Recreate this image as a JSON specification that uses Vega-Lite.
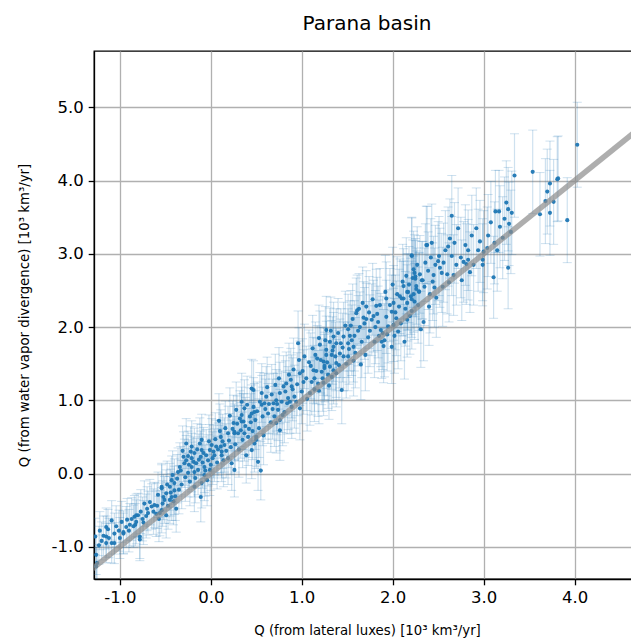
{
  "$schema": "https://vega.github.io/schema/vega-lite/v6.json",
  "autosize": {"type": "none"},
  "padding": {"left": 94, "top": 51, "right": 0, "bottom": 62},
  "width": 546,
  "height": 528,
  "background": "white",
  "title": {
    "text": "Parana basin",
    "font": "DejaVu Sans",
    "fontSize": 20,
    "fontWeight": "normal",
    "color": "#000000",
    "frame": "group",
    "anchor": "middle",
    "offset": 17
  },
  "config": {
    "font": "DejaVu Sans",
    "view": {"stroke": "#000000", "strokeWidth": 1.3},
    "axis": {
      "domainColor": "#000000",
      "domainWidth": 1.3,
      "tickColor": "#000000",
      "tickWidth": 1.3,
      "tickSize": 5.8,
      "labelFont": "DejaVu Sans",
      "labelFontSize": 16.5,
      "labelColor": "#000000",
      "labelPadding": 5,
      "gridColor": "#b0b0b0",
      "gridWidth": 1.3,
      "gridOpacity": 1,
      "titleFont": "DejaVu Sans",
      "titleFontSize": 13.3,
      "titleFontWeight": "normal",
      "titleColor": "#000000"
    }
  },
  "datasets": {
    "samples": [
      {"x": -1.26, "y": -1.27, "e": 0.26}, {"x": -1.25, "y": -1.22, "e": 0.25}, {"x": -1.27, "y": -0.86, "e": 0.25},
      {"x": -1.26, "y": -1.11, "e": 0.27}, {"x": -1.22, "y": -0.78, "e": 0.26}, {"x": -1.2, "y": -0.92, "e": 0.26},
      {"x": -1.15, "y": -0.95, "e": 0.27}, {"x": -1.15, "y": -0.86, "e": 0.28}, {"x": -1.15, "y": -0.73, "e": 0.26},
      {"x": -1.13, "y": -0.76, "e": 0.27}, {"x": -1.09, "y": -0.64, "e": 0.27}, {"x": -1.09, "y": -0.95, "e": 0.27},
      {"x": -1.06, "y": -0.82, "e": 0.28}, {"x": -1.06, "y": -0.95, "e": 0.28}, {"x": -1.0, "y": -0.88, "e": 0.28},
      {"x": -0.96, "y": -0.8, "e": 0.29}, {"x": -0.96, "y": -0.82, "e": 0.28}, {"x": -0.93, "y": -0.73, "e": 0.28},
      {"x": -0.89, "y": -0.7, "e": 0.29}, {"x": -0.85, "y": -0.72, "e": 0.29}, {"x": -0.84, "y": -0.59, "e": 0.29},
      {"x": -0.82, "y": -0.66, "e": 0.3}, {"x": -0.82, "y": -0.57, "e": 0.29}, {"x": -0.8, "y": -0.57, "e": 0.3},
      {"x": -0.78, "y": -0.86, "e": 0.3}, {"x": -0.78, "y": -0.9, "e": 0.29}, {"x": -0.75, "y": -0.62, "e": 0.3},
      {"x": -0.73, "y": -0.41, "e": 0.31}, {"x": -0.7, "y": -0.48, "e": 0.3}, {"x": -0.69, "y": -0.54, "e": 0.3},
      {"x": -0.65, "y": -0.45, "e": 0.31}, {"x": -0.62, "y": -0.43, "e": 0.31}, {"x": -0.6, "y": -0.55, "e": 0.31},
      {"x": -0.58, "y": -0.29, "e": 0.31}, {"x": -0.56, "y": -0.54, "e": 0.31}, {"x": -0.54, "y": -0.5, "e": 0.31},
      {"x": -0.54, "y": -0.2, "e": 0.32}, {"x": -0.54, "y": -0.18, "e": 0.32}, {"x": -0.52, "y": -0.32, "e": 0.31},
      {"x": -0.51, "y": -0.36, "e": 0.32}, {"x": -0.49, "y": -0.57, "e": 0.31}, {"x": -0.49, "y": -0.27, "e": 0.32},
      {"x": -0.45, "y": -0.36, "e": 0.32}, {"x": -0.45, "y": -0.18, "e": 0.32}, {"x": -0.43, "y": -0.09, "e": 0.33},
      {"x": -0.43, "y": -0.32, "e": 0.32}, {"x": -0.4, "y": -0.13, "e": 0.33}, {"x": -0.4, "y": -0.23, "e": 0.33},
      {"x": -0.38, "y": -0.48, "e": 0.32}, {"x": -0.36, "y": 0.02, "e": 0.33}, {"x": -0.34, "y": 0.09, "e": 0.33},
      {"x": -0.3, "y": 0.23, "e": 0.34}, {"x": -0.29, "y": 0.14, "e": 0.33}, {"x": -0.27, "y": 0.41, "e": 0.34},
      {"x": -0.25, "y": 0.24, "e": 0.34}, {"x": -0.25, "y": 0.01, "e": 0.33}, {"x": -0.21, "y": 0.21, "e": 0.34},
      {"x": -0.21, "y": 0.09, "e": 0.34}, {"x": -0.21, "y": 0.37, "e": 0.35}, {"x": -0.18, "y": 0.28, "e": 0.34},
      {"x": -0.18, "y": 0.02, "e": 0.34}, {"x": -0.18, "y": -0.18, "e": 0.34}, {"x": -0.16, "y": 0.14, "e": 0.34},
      {"x": -0.11, "y": 0.23, "e": 0.35}, {"x": -0.11, "y": -0.32, "e": 0.34}, {"x": -0.1, "y": 0.32, "e": 0.35},
      {"x": -0.1, "y": 0.46, "e": 0.35}, {"x": -0.1, "y": -0.13, "e": 0.34}, {"x": -0.07, "y": 0.09, "e": 0.35},
      {"x": -0.07, "y": -0.02, "e": 0.35}, {"x": -0.05, "y": 0.25, "e": 0.35}, {"x": -0.04, "y": -0.09, "e": 0.35},
      {"x": -0.01, "y": 0.32, "e": 0.35}, {"x": -0.01, "y": 0.05, "e": 0.35}, {"x": 0.01, "y": 0.39, "e": 0.36},
      {"x": 0.03, "y": 0.3, "e": 0.36}, {"x": 0.04, "y": 0.25, "e": 0.36}, {"x": 0.06, "y": 0.37, "e": 0.36},
      {"x": 0.09, "y": 0.72, "e": 0.37}, {"x": 0.11, "y": 0.37, "e": 0.36}, {"x": 0.11, "y": 0.5, "e": 0.37},
      {"x": 0.12, "y": 0.25, "e": 0.36}, {"x": 0.12, "y": 0.3, "e": 0.36}, {"x": 0.15, "y": 0.39, "e": 0.37},
      {"x": 0.19, "y": 0.21, "e": 0.36}, {"x": 0.19, "y": 0.55, "e": 0.37}, {"x": 0.23, "y": 0.14, "e": 0.37},
      {"x": 0.25, "y": 0.69, "e": 0.38}, {"x": 0.26, "y": 0.05, "e": 0.37}, {"x": 0.26, "y": 0.55, "e": 0.37},
      {"x": 0.26, "y": 0.57, "e": 0.38}, {"x": 0.28, "y": 0.87, "e": 0.38}, {"x": 0.3, "y": 0.55, "e": 0.38},
      {"x": 0.32, "y": 0.75, "e": 0.38}, {"x": 0.34, "y": 0.98, "e": 0.39}, {"x": 0.34, "y": 0.8, "e": 0.38},
      {"x": 0.34, "y": 0.71, "e": 0.38}, {"x": 0.36, "y": 0.71, "e": 0.38}, {"x": 0.37, "y": 0.55, "e": 0.38},
      {"x": 0.37, "y": 0.89, "e": 0.39}, {"x": 0.39, "y": 0.25, "e": 0.38}, {"x": 0.41, "y": 0.5, "e": 0.39},
      {"x": 0.43, "y": 0.78, "e": 0.39}, {"x": 0.45, "y": 1.16, "e": 0.4}, {"x": 0.45, "y": 0.82, "e": 0.39},
      {"x": 0.45, "y": 0.32, "e": 0.39}, {"x": 0.47, "y": 1.14, "e": 0.4}, {"x": 0.47, "y": 0.91, "e": 0.4},
      {"x": 0.48, "y": 0.84, "e": 0.39}, {"x": 0.48, "y": 0.41, "e": 0.39}, {"x": 0.5, "y": 0.5, "e": 0.4},
      {"x": 0.5, "y": 0.46, "e": 0.39}, {"x": 0.52, "y": 0.16, "e": 0.39}, {"x": 0.54, "y": 0.98, "e": 0.4},
      {"x": 0.55, "y": 0.04, "e": 0.4}, {"x": 0.56, "y": 1.1, "e": 0.4}, {"x": 0.56, "y": 0.94, "e": 0.4},
      {"x": 0.59, "y": 0.96, "e": 0.41}, {"x": 0.61, "y": 1.05, "e": 0.41}, {"x": 0.63, "y": 0.82, "e": 0.41},
      {"x": 0.69, "y": 0.96, "e": 0.41}, {"x": 0.7, "y": 0.78, "e": 0.41}, {"x": 0.72, "y": 1.0, "e": 0.42},
      {"x": 0.72, "y": 0.69, "e": 0.41}, {"x": 0.74, "y": 0.87, "e": 0.42}, {"x": 0.76, "y": 1.1, "e": 0.42},
      {"x": 0.76, "y": 0.73, "e": 0.42}, {"x": 0.76, "y": 0.59, "e": 0.41}, {"x": 0.8, "y": 1.19, "e": 0.42},
      {"x": 0.81, "y": 0.84, "e": 0.42}, {"x": 0.83, "y": 1.23, "e": 0.43}, {"x": 0.84, "y": 0.96, "e": 0.42},
      {"x": 0.85, "y": 1.03, "e": 0.43}, {"x": 0.88, "y": 1.28, "e": 0.43}, {"x": 0.89, "y": 1.19, "e": 0.43},
      {"x": 0.89, "y": 0.91, "e": 0.43}, {"x": 0.92, "y": 1.05, "e": 0.43}, {"x": 0.96, "y": 1.78, "e": 0.44},
      {"x": 0.98, "y": 1.37, "e": 0.44}, {"x": 0.98, "y": 0.89, "e": 0.43}, {"x": 1.02, "y": 1.25, "e": 0.44},
      {"x": 1.09, "y": 1.1, "e": 0.44}, {"x": 1.1, "y": 1.47, "e": 0.45}, {"x": 1.12, "y": 1.71, "e": 0.45},
      {"x": 1.13, "y": 1.41, "e": 0.45}, {"x": 1.14, "y": 1.3, "e": 0.45}, {"x": 1.14, "y": 1.15, "e": 0.44},
      {"x": 1.17, "y": 1.57, "e": 0.45}, {"x": 1.18, "y": 1.23, "e": 0.45}, {"x": 1.19, "y": 1.13, "e": 0.45},
      {"x": 1.2, "y": 1.76, "e": 0.46}, {"x": 1.22, "y": 1.39, "e": 0.45}, {"x": 1.24, "y": 1.53, "e": 0.46},
      {"x": 1.24, "y": 1.24, "e": 0.45}, {"x": 1.25, "y": 1.44, "e": 0.46}, {"x": 1.25, "y": 1.47, "e": 0.46},
      {"x": 1.27, "y": 1.96, "e": 0.46}, {"x": 1.27, "y": 1.69, "e": 0.46}, {"x": 1.27, "y": 1.62, "e": 0.46},
      {"x": 1.29, "y": 1.35, "e": 0.46}, {"x": 1.31, "y": 1.8, "e": 0.46}, {"x": 1.31, "y": 1.46, "e": 0.46},
      {"x": 1.33, "y": 1.62, "e": 0.47}, {"x": 1.33, "y": 1.32, "e": 0.46}, {"x": 1.35, "y": 1.87, "e": 0.47},
      {"x": 1.35, "y": 1.73, "e": 0.47}, {"x": 1.35, "y": 1.41, "e": 0.46}, {"x": 1.38, "y": 1.78, "e": 0.47},
      {"x": 1.38, "y": 1.51, "e": 0.47}, {"x": 1.38, "y": 1.37, "e": 0.46}, {"x": 1.42, "y": 1.64, "e": 0.47},
      {"x": 1.43, "y": 1.78, "e": 0.47}, {"x": 1.44, "y": 1.14, "e": 0.46}, {"x": 1.46, "y": 1.87, "e": 0.47},
      {"x": 1.46, "y": 1.6, "e": 0.47}, {"x": 1.51, "y": 1.97, "e": 0.48}, {"x": 1.51, "y": 1.78, "e": 0.47},
      {"x": 1.51, "y": 1.6, "e": 0.47}, {"x": 1.53, "y": 1.88, "e": 0.48}, {"x": 1.56, "y": 2.11, "e": 0.48},
      {"x": 1.57, "y": 1.73, "e": 0.48}, {"x": 1.57, "y": 1.54, "e": 0.48}, {"x": 1.58, "y": 1.88, "e": 0.48},
      {"x": 1.6, "y": 2.19, "e": 0.48}, {"x": 1.61, "y": 2.23, "e": 0.48}, {"x": 1.64, "y": 2.0, "e": 0.48},
      {"x": 1.65, "y": 1.49, "e": 0.48}, {"x": 1.67, "y": 2.33, "e": 0.49}, {"x": 1.68, "y": 2.13, "e": 0.49},
      {"x": 1.71, "y": 2.28, "e": 0.49}, {"x": 1.71, "y": 2.11, "e": 0.49}, {"x": 1.73, "y": 1.86, "e": 0.49},
      {"x": 1.77, "y": 2.1, "e": 0.49}, {"x": 1.79, "y": 2.15, "e": 0.49}, {"x": 1.8, "y": 1.8, "e": 0.49},
      {"x": 1.82, "y": 2.29, "e": 0.5}, {"x": 1.84, "y": 2.07, "e": 0.49}, {"x": 1.85, "y": 1.88, "e": 0.49},
      {"x": 1.87, "y": 1.96, "e": 0.5}, {"x": 1.89, "y": 1.92, "e": 0.5}, {"x": 1.9, "y": 1.74, "e": 0.5},
      {"x": 1.91, "y": 1.82, "e": 0.5}, {"x": 1.93, "y": 2.39, "e": 0.5}, {"x": 1.93, "y": 2.14, "e": 0.5},
      {"x": 1.95, "y": 2.01, "e": 0.5}, {"x": 1.99, "y": 2.21, "e": 0.5}, {"x": 1.99, "y": 1.73, "e": 0.5},
      {"x": 2.01, "y": 2.33, "e": 0.51}, {"x": 2.01, "y": 2.03, "e": 0.5}, {"x": 2.04, "y": 2.12, "e": 0.51},
      {"x": 2.06, "y": 1.94, "e": 0.51}, {"x": 2.08, "y": 2.42, "e": 0.51}, {"x": 2.1, "y": 2.39, "e": 0.51},
      {"x": 2.12, "y": 2.56, "e": 0.51}, {"x": 2.12, "y": 2.39, "e": 0.51}, {"x": 2.13, "y": 1.8, "e": 0.51},
      {"x": 2.16, "y": 2.48, "e": 0.52}, {"x": 2.16, "y": 2.1, "e": 0.51}, {"x": 2.16, "y": 2.33, "e": 0.52},
      {"x": 2.17, "y": 2.48, "e": 0.52}, {"x": 2.2, "y": 2.42, "e": 0.52}, {"x": 2.21, "y": 2.98, "e": 0.52},
      {"x": 2.21, "y": 2.97, "e": 0.52}, {"x": 2.21, "y": 2.38, "e": 0.52}, {"x": 2.21, "y": 2.22, "e": 0.52},
      {"x": 2.22, "y": 2.67, "e": 0.52}, {"x": 2.23, "y": 2.79, "e": 0.52}, {"x": 2.24, "y": 2.74, "e": 0.52},
      {"x": 2.24, "y": 2.35, "e": 0.52}, {"x": 2.25, "y": 2.69, "e": 0.52}, {"x": 2.25, "y": 2.66, "e": 0.52},
      {"x": 2.26, "y": 2.52, "e": 0.52}, {"x": 2.26, "y": 2.56, "e": 0.52}, {"x": 2.29, "y": 2.48, "e": 0.53},
      {"x": 2.29, "y": 2.49, "e": 0.53}, {"x": 2.31, "y": 1.97, "e": 0.52}, {"x": 2.32, "y": 2.64, "e": 0.53},
      {"x": 2.33, "y": 2.64, "e": 0.53}, {"x": 2.34, "y": 2.07, "e": 0.53}, {"x": 2.37, "y": 3.12, "e": 0.53},
      {"x": 2.38, "y": 3.12, "e": 0.53}, {"x": 2.39, "y": 2.77, "e": 0.53}, {"x": 2.4, "y": 2.28, "e": 0.53},
      {"x": 2.43, "y": 3.15, "e": 0.53}, {"x": 2.45, "y": 2.71, "e": 0.53}, {"x": 2.46, "y": 2.54, "e": 0.54},
      {"x": 2.5, "y": 2.9, "e": 0.54}, {"x": 2.51, "y": 2.97, "e": 0.54}, {"x": 2.52, "y": 2.81, "e": 0.54},
      {"x": 2.54, "y": 2.74, "e": 0.54}, {"x": 2.55, "y": 2.55, "e": 0.54}, {"x": 2.61, "y": 3.1, "e": 0.54},
      {"x": 2.62, "y": 2.61, "e": 0.54}, {"x": 2.63, "y": 3.21, "e": 0.54}, {"x": 2.65, "y": 3.52, "e": 0.55},
      {"x": 2.65, "y": 2.97, "e": 0.54}, {"x": 2.67, "y": 2.71, "e": 0.55}, {"x": 2.75, "y": 2.95, "e": 0.55},
      {"x": 2.76, "y": 2.64, "e": 0.55}, {"x": 2.78, "y": 2.89, "e": 0.55}, {"x": 2.81, "y": 2.86, "e": 0.55},
      {"x": 2.83, "y": 3.05, "e": 0.55}, {"x": 2.83, "y": 2.92, "e": 0.55}, {"x": 2.87, "y": 3.25, "e": 0.55},
      {"x": 2.89, "y": 2.85, "e": 0.55}, {"x": 2.96, "y": 3.17, "e": 0.56}, {"x": 2.99, "y": 2.92, "e": 0.56},
      {"x": 2.99, "y": 2.85, "e": 0.56}, {"x": 3.0, "y": 3.03, "e": 0.56}, {"x": 3.04, "y": 3.08, "e": 0.56},
      {"x": 3.08, "y": 3.43, "e": 0.56}, {"x": 3.11, "y": 2.68, "e": 0.56}, {"x": 3.12, "y": 3.15, "e": 0.56},
      {"x": 3.13, "y": 3.58, "e": 0.56}, {"x": 3.17, "y": 3.58, "e": 0.56}, {"x": 3.18, "y": 3.37, "e": 0.56},
      {"x": 3.23, "y": 3.48, "e": 0.57}, {"x": 3.27, "y": 3.61, "e": 0.57}, {"x": 3.27, "y": 2.81, "e": 0.56},
      {"x": 3.28, "y": 3.41, "e": 0.57}, {"x": 3.31, "y": 3.56, "e": 0.57}, {"x": 3.34, "y": 4.07, "e": 0.57},
      {"x": 3.54, "y": 4.12, "e": 0.57}, {"x": 3.62, "y": 3.54, "e": 0.57}, {"x": 3.68, "y": 3.72, "e": 0.58},
      {"x": 3.7, "y": 3.85, "e": 0.58}, {"x": 3.73, "y": 3.96, "e": 0.58}, {"x": 3.73, "y": 3.56, "e": 0.58},
      {"x": 3.77, "y": 3.71, "e": 0.58}, {"x": 3.81, "y": 4.02, "e": 0.58}, {"x": 3.82, "y": 4.03, "e": 0.58},
      {"x": 3.92, "y": 3.46, "e": 0.58}, {"x": 4.03, "y": 4.49, "e": 0.58},
      {"x": -1.23, "y": -0.98, "e": 0.26}, {"x": -1.18, "y": -0.85, "e": 0.27}, {"x": -1.12, "y": -0.88, "e": 0.27},
      {"x": -1.04, "y": -0.72, "e": 0.28}, {"x": -1.01, "y": -0.78, "e": 0.28}, {"x": -0.98, "y": -0.66, "e": 0.28},
      {"x": -0.92, "y": -0.63, "e": 0.29}, {"x": -0.9, "y": -0.78, "e": 0.29}, {"x": -0.87, "y": -0.62, "e": 0.29},
      {"x": -0.83, "y": -0.7, "e": 0.29}, {"x": -0.77, "y": -0.52, "e": 0.3}, {"x": -0.74, "y": -0.67, "e": 0.3},
      {"x": -0.71, "y": -0.58, "e": 0.3}, {"x": -0.67, "y": -0.39, "e": 0.31}, {"x": -0.63, "y": -0.52, "e": 0.31},
      {"x": -0.59, "y": -0.44, "e": 0.31}, {"x": -0.57, "y": -0.62, "e": 0.31}, {"x": -0.53, "y": -0.41, "e": 0.31},
      {"x": -0.48, "y": -0.15, "e": 0.32}, {"x": -0.47, "y": -0.44, "e": 0.32}, {"x": -0.44, "y": -0.26, "e": 0.32},
      {"x": -0.42, "y": -0.02, "e": 0.33}, {"x": -0.41, "y": -0.38, "e": 0.32}, {"x": -0.39, "y": -0.31, "e": 0.33},
      {"x": -0.37, "y": -0.07, "e": 0.33}, {"x": -0.35, "y": -0.22, "e": 0.33}, {"x": -0.33, "y": 0.04, "e": 0.33},
      {"x": -0.32, "y": -0.15, "e": 0.33}, {"x": -0.31, "y": 0.31, "e": 0.34}, {"x": -0.28, "y": -0.05, "e": 0.33},
      {"x": -0.27, "y": 0.18, "e": 0.34}, {"x": -0.24, "y": 0.12, "e": 0.34}, {"x": -0.23, "y": -0.11, "e": 0.33},
      {"x": -0.22, "y": 0.3, "e": 0.34}, {"x": -0.19, "y": 0.16, "e": 0.34}, {"x": -0.17, "y": -0.06, "e": 0.34},
      {"x": -0.15, "y": 0.33, "e": 0.35}, {"x": -0.14, "y": 0.05, "e": 0.34}, {"x": -0.13, "y": 0.19, "e": 0.35},
      {"x": -0.12, "y": 0.41, "e": 0.35}, {"x": -0.09, "y": 0.15, "e": 0.35}, {"x": -0.08, "y": 0.28, "e": 0.35},
      {"x": -0.06, "y": 0.04, "e": 0.35}, {"x": -0.03, "y": 0.18, "e": 0.35}, {"x": -0.02, "y": 0.44, "e": 0.36},
      {"x": 0.0, "y": 0.12, "e": 0.35}, {"x": 0.02, "y": 0.21, "e": 0.36}, {"x": 0.05, "y": 0.47, "e": 0.36},
      {"x": 0.07, "y": 0.15, "e": 0.36}, {"x": 0.08, "y": 0.33, "e": 0.36}, {"x": 0.1, "y": 0.58, "e": 0.37},
      {"x": 0.13, "y": 0.44, "e": 0.37}, {"x": 0.14, "y": 0.18, "e": 0.36}, {"x": 0.16, "y": 0.62, "e": 0.37},
      {"x": 0.17, "y": 0.31, "e": 0.37}, {"x": 0.2, "y": 0.45, "e": 0.37}, {"x": 0.21, "y": 0.79, "e": 0.38},
      {"x": 0.22, "y": 0.36, "e": 0.37}, {"x": 0.24, "y": 0.61, "e": 0.38}, {"x": 0.27, "y": 0.4, "e": 0.38},
      {"x": 0.29, "y": 0.68, "e": 0.38}, {"x": 0.31, "y": 0.33, "e": 0.38}, {"x": 0.33, "y": 0.59, "e": 0.38},
      {"x": 0.35, "y": 0.46, "e": 0.38}, {"x": 0.38, "y": 0.65, "e": 0.39}, {"x": 0.4, "y": 0.94, "e": 0.39},
      {"x": 0.42, "y": 0.61, "e": 0.39}, {"x": 0.44, "y": 0.7, "e": 0.39}, {"x": 0.46, "y": 0.58, "e": 0.39},
      {"x": 0.49, "y": 0.73, "e": 0.4}, {"x": 0.51, "y": 0.85, "e": 0.4}, {"x": 0.53, "y": 0.62, "e": 0.4},
      {"x": 0.57, "y": 0.78, "e": 0.4}, {"x": 0.58, "y": 0.52, "e": 0.4}, {"x": 0.6, "y": 0.88, "e": 0.41},
      {"x": 0.62, "y": 1.18, "e": 0.41}, {"x": 0.64, "y": 0.95, "e": 0.41}, {"x": 0.66, "y": 0.7, "e": 0.41},
      {"x": 0.67, "y": 1.08, "e": 0.41}, {"x": 0.68, "y": 0.88, "e": 0.41}, {"x": 0.71, "y": 1.21, "e": 0.42},
      {"x": 0.73, "y": 0.95, "e": 0.42}, {"x": 0.75, "y": 1.3, "e": 0.42}, {"x": 0.78, "y": 0.98, "e": 0.42},
      {"x": 0.79, "y": 0.8, "e": 0.42}, {"x": 0.82, "y": 1.12, "e": 0.42}, {"x": 0.86, "y": 1.35, "e": 0.43},
      {"x": 0.87, "y": 0.98, "e": 0.43}, {"x": 0.9, "y": 1.15, "e": 0.43}, {"x": 0.91, "y": 1.42, "e": 0.43},
      {"x": 0.94, "y": 0.98, "e": 0.43}, {"x": 0.95, "y": 1.22, "e": 0.43}, {"x": 0.97, "y": 1.55, "e": 0.44},
      {"x": 1.0, "y": 1.12, "e": 0.44}, {"x": 1.01, "y": 1.4, "e": 0.44}, {"x": 1.03, "y": 1.6, "e": 0.44},
      {"x": 1.05, "y": 1.3, "e": 0.44}, {"x": 1.06, "y": 1.02, "e": 0.44}, {"x": 1.08, "y": 1.52, "e": 0.44},
      {"x": 1.11, "y": 1.25, "e": 0.45}, {"x": 1.15, "y": 1.62, "e": 0.45}, {"x": 1.16, "y": 1.4, "e": 0.45},
      {"x": 1.19, "y": 1.85, "e": 0.45}, {"x": 1.21, "y": 1.55, "e": 0.45}, {"x": 1.23, "y": 1.3, "e": 0.45},
      {"x": 1.26, "y": 1.82, "e": 0.46}, {"x": 1.28, "y": 1.52, "e": 0.46}, {"x": 1.3, "y": 1.2, "e": 0.46},
      {"x": 1.32, "y": 1.95, "e": 0.46}, {"x": 1.34, "y": 1.68, "e": 0.46}, {"x": 1.37, "y": 1.6, "e": 0.47},
      {"x": 1.4, "y": 1.92, "e": 0.47}, {"x": 1.41, "y": 1.48, "e": 0.47}, {"x": 1.45, "y": 1.72, "e": 0.47},
      {"x": 1.48, "y": 2.02, "e": 0.47}, {"x": 1.49, "y": 1.5, "e": 0.47}, {"x": 1.52, "y": 1.7, "e": 0.48},
      {"x": 1.54, "y": 2.02, "e": 0.48}, {"x": 1.55, "y": 1.82, "e": 0.48}, {"x": 1.59, "y": 1.65, "e": 0.48},
      {"x": 1.62, "y": 1.95, "e": 0.48}, {"x": 1.63, "y": 2.25, "e": 0.48}, {"x": 1.66, "y": 1.8, "e": 0.49},
      {"x": 1.69, "y": 2.05, "e": 0.49}, {"x": 1.7, "y": 1.62, "e": 0.49}, {"x": 1.74, "y": 2.2, "e": 0.49},
      {"x": 1.75, "y": 1.95, "e": 0.49}, {"x": 1.78, "y": 2.38, "e": 0.49}, {"x": 1.81, "y": 2.0, "e": 0.5},
      {"x": 1.83, "y": 2.18, "e": 0.5}, {"x": 1.86, "y": 2.3, "e": 0.5}, {"x": 1.88, "y": 1.8, "e": 0.5},
      {"x": 1.92, "y": 2.48, "e": 0.5}, {"x": 1.94, "y": 1.9, "e": 0.5}, {"x": 1.97, "y": 2.3, "e": 0.5},
      {"x": 2.0, "y": 2.58, "e": 0.51}, {"x": 2.02, "y": 1.88, "e": 0.51}, {"x": 2.03, "y": 2.2, "e": 0.51},
      {"x": 2.05, "y": 2.45, "e": 0.51}, {"x": 2.07, "y": 2.28, "e": 0.51}, {"x": 2.09, "y": 2.05, "e": 0.51},
      {"x": 2.11, "y": 2.62, "e": 0.51}, {"x": 2.14, "y": 2.25, "e": 0.51}, {"x": 2.15, "y": 2.7, "e": 0.52},
      {"x": 2.18, "y": 2.58, "e": 0.52}, {"x": 2.19, "y": 2.15, "e": 0.52}, {"x": 2.23, "y": 2.45, "e": 0.52},
      {"x": 2.27, "y": 2.85, "e": 0.52}, {"x": 2.28, "y": 2.3, "e": 0.52}, {"x": 2.3, "y": 2.72, "e": 0.53},
      {"x": 2.35, "y": 2.55, "e": 0.53}, {"x": 2.36, "y": 2.88, "e": 0.53}, {"x": 2.41, "y": 2.45, "e": 0.53},
      {"x": 2.42, "y": 2.95, "e": 0.53}, {"x": 2.44, "y": 2.62, "e": 0.53}, {"x": 2.47, "y": 2.85, "e": 0.54},
      {"x": 2.48, "y": 2.4, "e": 0.54}, {"x": 2.56, "y": 2.88, "e": 0.54}, {"x": 2.58, "y": 3.05, "e": 0.54},
      {"x": 2.6, "y": 2.72, "e": 0.54}, {"x": 2.68, "y": 3.15, "e": 0.55}, {"x": 2.7, "y": 2.85, "e": 0.55},
      {"x": 2.72, "y": 3.35, "e": 0.55}, {"x": 2.8, "y": 3.12, "e": 0.55}, {"x": 2.85, "y": 2.75, "e": 0.55},
      {"x": 2.92, "y": 3.35, "e": 0.55}, {"x": 2.94, "y": 3.05, "e": 0.56}, {"x": 3.05, "y": 3.25, "e": 0.56},
      {"x": 3.15, "y": 3.05, "e": 0.56}, {"x": 3.21, "y": 3.22, "e": 0.56}, {"x": 3.25, "y": 3.7, "e": 0.57},
      {"x": 3.3, "y": 3.3, "e": 0.57}
    ],
    "oneToOne": [
      {"x": -1.5, "y": -1.5},
      {"x": 5.0, "y": 5.0}
    ]
  },
  "layer": [
    {
      "data": {"name": "samples"},
      "mark": {
        "type": "errorbar",
        "clip": true,
        "ticks": {"size": 9, "color": "#1f77b4", "opacity": 0.22, "strokeWidth": 1.2},
        "rule": {"color": "#1f77b4", "opacity": 0.22, "strokeWidth": 1.2}
      },
      "encoding": {
        "x": {
          "field": "x",
          "type": "quantitative",
          "scale": {"domain": [-1.284, 4.72], "nice": false, "zero": false},
          "axis": {
            "values": [-1, 0, 1, 2, 3, 4],
            "labelExpr": "(datum.value < 0 ? '-' : '') + format(abs(datum.value), '.1f')",
            "labelPadding": 5,
            "title": "Q (from lateral luxes) [10³ km³/yr]",
            "titlePadding": 17
          }
        },
        "y": {
          "field": "y",
          "type": "quantitative",
          "scale": {"domain": [-1.44, 5.77], "nice": false, "zero": false},
          "axis": {
            "values": [-1, 0, 1, 2, 3, 4, 5],
            "labelExpr": "(datum.value < 0 ? '-' : '') + format(abs(datum.value), '.1f')",
            "title": "Q (from water vapor divergence) [10³ km³/yr]",
            "titlePadding": 20
          }
        },
        "yError": {"field": "e"}
      }
    },
    {
      "data": {"name": "samples"},
      "mark": {"type": "circle", "size": 17, "color": "#1f77b4", "opacity": 0.95, "clip": true},
      "encoding": {
        "x": {"field": "x", "type": "quantitative"},
        "y": {"field": "y", "type": "quantitative"}
      }
    },
    {
      "data": {"name": "oneToOne"},
      "mark": {"type": "line", "color": "#8c8c8c", "opacity": 0.7, "strokeWidth": 5.5, "clip": true},
      "encoding": {
        "x": {"field": "x", "type": "quantitative"},
        "y": {"field": "y", "type": "quantitative"}
      }
    }
  ]
}
